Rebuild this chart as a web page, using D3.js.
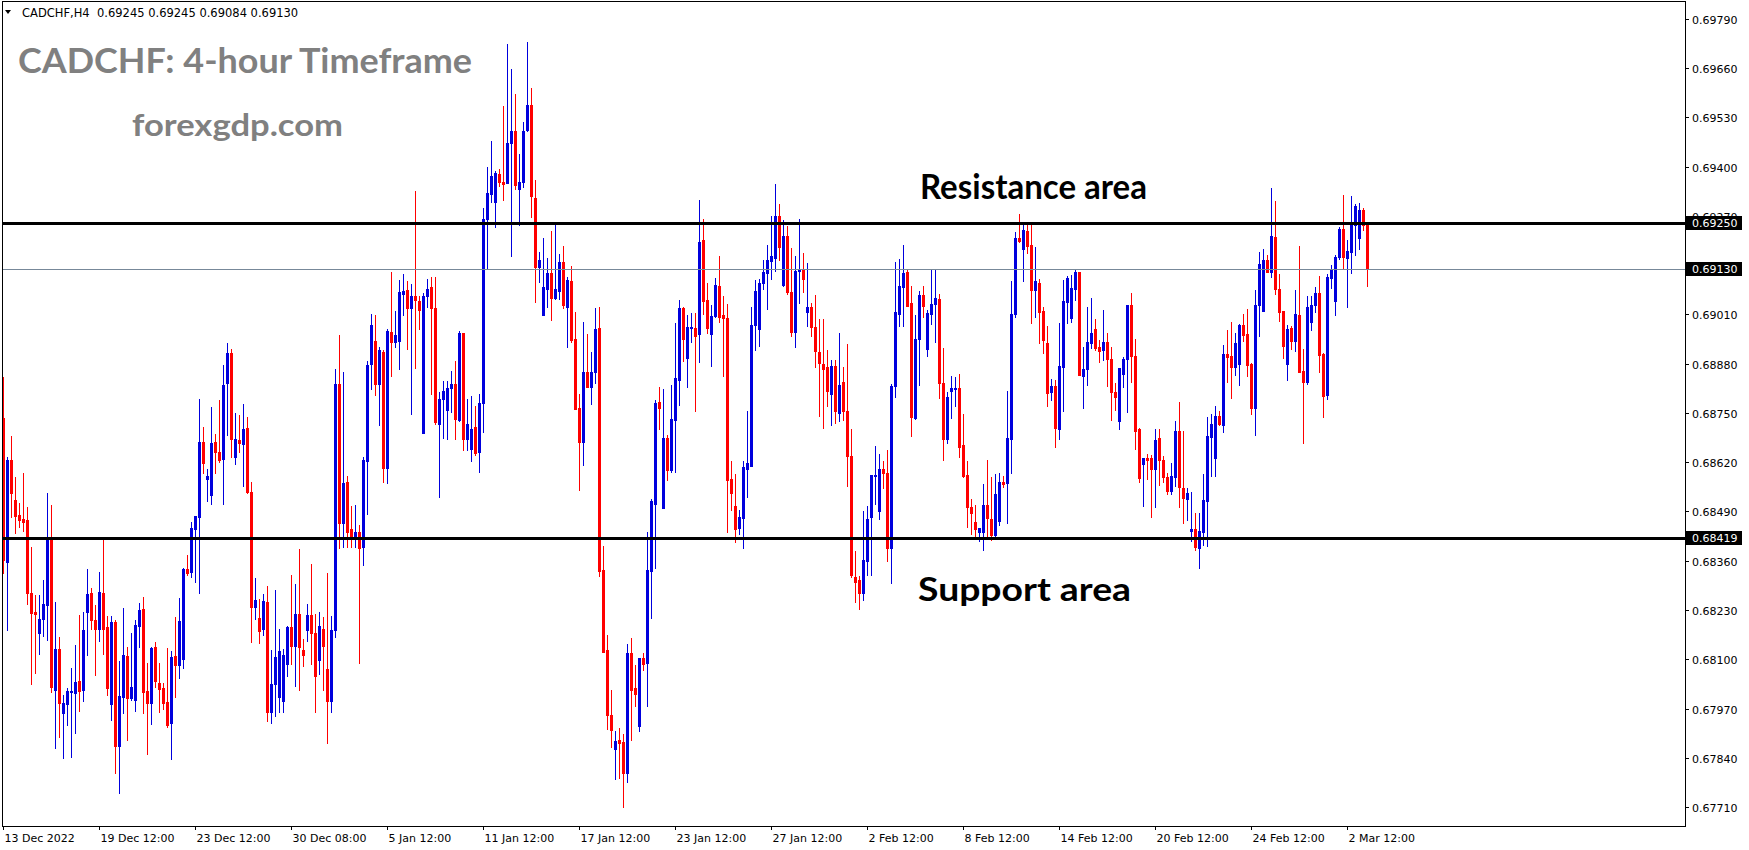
<!DOCTYPE html>
<html>
<head>
<meta charset="utf-8">
<script src="https://cdn.jsdelivr.net/npm/d3@7/dist/d3.min.js"></script>
<style>
  body { margin: 0; background: #fff; }
  svg text { font-family: "DejaVu Sans", sans-serif; }
</style>
</head>
<body>
<div id="chart"></div>
<script>
//CHART DATA (CADCHF H4 candles)
const opens = [0.68736,0.68357,0.68626,0.68520,0.68481,0.68470,0.68467,0.68276,0.68225,0.68170,0.68205,0.68244,0.68419,0.68020,0.68127,0.67959,0.67983,0.68014,0.68012,0.68042,
0.68019,0.68225,0.68274,0.68203,0.68180,0.68274,0.68184,0.67983,0.68198,0.67872,0.68001,0.68108,0.67998,0.67992,0.68188,0.68232,0.68017,0.67985,0.68133,0.68038,
0.68025,0.67988,0.67931,0.68108,0.68084,0.68100,0.68338,0.68331,0.68444,0.68476,0.68673,0.68576,0.68534,0.68673,0.68648,0.68629,0.68828,0.68909,0.68635,0.68679,
0.68669,0.68711,0.68541,0.68239,0.68209,0.68179,0.68251,0.67961,0.68036,0.68000,0.67990,0.68088,0.68184,0.68135,0.68220,0.68125,0.68176,0.68216,0.68170,0.68099,
0.68179,0.68075,0.67990,0.68176,0.68826,0.68460,0.68569,0.68444,0.68425,0.68436,0.68397,0.68624,0.68878,0.68941,0.68826,0.68912,0.68604,0.68963,0.68936,0.68939,
0.69064,0.69074,0.69026,0.69059,0.69045,0.68697,0.69058,0.69081,0.69026,0.68722,0.68786,0.68757,0.68815,0.68826,0.68731,0.68960,0.68681,0.68655,0.68712,0.68646,
0.68777,0.69261,0.69329,0.69307,0.69381,0.69360,0.69357,0.69463,0.69493,0.69340,0.69359,0.69496,0.69562,0.69318,0.69136,0.69009,0.69078,0.69118,0.69053,0.69071,
0.69147,0.69029,0.69098,0.68946,0.68763,0.68674,0.68859,0.68819,0.68859,0.68975,0.68335,0.68124,0.67952,0.67863,0.67887,0.67881,0.67800,0.68117,0.68025,0.67925,
0.68104,0.68091,0.68332,0.68511,0.68780,0.68500,0.68683,0.68600,0.68732,0.68837,0.69027,0.68894,0.68974,0.68975,0.68957,0.69206,0.69048,0.68959,0.69006,0.69085,
0.69008,0.69000,0.68576,0.68504,0.68446,0.68473,0.68602,0.68609,0.68981,0.68971,0.69092,0.69120,0.69152,0.69160,0.69269,0.69087,0.69217,0.69068,0.68964,0.69124,
0.69127,0.69016,0.69030,0.68978,0.68911,0.68878,0.68870,0.68799,0.68874,0.68750,0.68831,0.68756,0.68637,0.68318,0.68309,0.68276,0.68360,0.68475,0.68584,0.68492,
0.68601,0.68592,0.68393,0.68822,0.69011,0.69083,0.69123,0.69039,0.68736,0.68944,0.69060,0.68919,0.69011,0.69037,0.69051,0.68830,0.68681,0.68809,0.68813,0.68815,
0.68665,0.68586,0.68501,0.68461,0.68437,0.68437,0.68507,0.68469,0.68428,0.68466,0.68568,0.68566,0.68680,0.69010,0.69211,0.69182,0.69230,0.69192,0.69074,0.69092,
0.69019,0.68934,0.68804,0.68821,0.68708,0.68872,0.69044,0.69000,0.69076,0.69121,0.68848,0.68865,0.68934,0.68972,0.68924,0.68916,0.68937,0.68893,0.68804,0.68729,
0.68854,0.68891,0.69036,0.68901,0.68707,0.68615,0.68630,0.68630,0.68601,0.68685,0.68626,0.68582,0.68545,0.68582,0.68702,0.68553,0.68522,0.68439,0.68444,0.68394,
0.68437,0.68518,0.68687,0.68630,0.68742,0.68718,0.68905,0.68901,0.68872,0.68879,0.68982,0.68957,0.68879,0.68764,0.69035,0.69019,0.69153,0.69123,0.69215,0.69077,
0.69019,0.68879,0.68973,0.68941,0.69008,0.68861,0.68831,0.68991,0.69035,0.69067,0.68905,0.68797,0.69107,0.69046,0.69161,0.69235,0.69158,0.69175,0.69246,0.69211,
0.69285,0.69245];
const highs = [0.68846,0.68635,0.68689,0.68582,0.68513,0.68591,0.68502,0.68395,0.68269,0.68269,0.68309,0.68539,0.68507,0.68252,0.68159,0.68007,0.68025,0.68078,0.68137,0.68218,
0.68225,0.68339,0.68289,0.68243,0.68330,0.68419,0.68215,0.68215,0.68203,0.68095,0.68236,0.68133,0.68170,0.68203,0.68249,0.68265,0.68091,0.68133,0.68146,0.68089,
0.68038,0.68130,0.68122,0.68212,0.68262,0.68342,0.68375,0.68463,0.68479,0.68787,0.68714,0.68601,0.68766,0.68694,0.68784,0.68877,0.68934,0.68919,0.68750,0.68745,
0.68774,0.68738,0.68568,0.68315,0.68260,0.68271,0.68293,0.68124,0.68283,0.68180,0.68127,0.68189,0.68322,0.68298,0.68392,0.68154,0.68247,0.68351,0.68220,0.68225,
0.68211,0.68327,0.68214,0.68865,0.68955,0.68859,0.68583,0.68504,0.68506,0.68455,0.68635,0.68886,0.69012,0.69009,0.68925,0.68916,0.68972,0.69121,0.69018,0.69102,
0.69116,0.69097,0.69089,0.69335,0.69058,0.69067,0.69103,0.69108,0.69108,0.68804,0.68834,0.68835,0.68861,0.68886,0.68966,0.68960,0.68788,0.68794,0.68768,0.68799,
0.69291,0.69400,0.69468,0.69389,0.69395,0.69559,0.69723,0.69657,0.69592,0.69433,0.69518,0.69728,0.69608,0.69365,0.69174,0.69212,0.69160,0.69231,0.69249,0.69170,
0.69190,0.69109,0.69138,0.69016,0.68801,0.68989,0.68957,0.68911,0.69027,0.69029,0.68399,0.68164,0.68019,0.67911,0.67919,0.67903,0.68140,0.68156,0.68085,0.68104,
0.68117,0.68435,0.68522,0.68783,0.68818,0.68813,0.68691,0.68824,0.68986,0.69049,0.69029,0.69009,0.69013,0.69013,0.69313,0.69263,0.69092,0.69035,0.69105,0.69163,
0.69058,0.69038,0.68623,0.68590,0.68493,0.68624,0.68756,0.69030,0.69102,0.69103,0.69153,0.69193,0.69269,0.69353,0.69301,0.69259,0.69244,0.69185,0.69163,0.69263,
0.69172,0.69146,0.69041,0.69060,0.68997,0.68998,0.68915,0.68889,0.68889,0.68962,0.68870,0.68932,0.68707,0.68386,0.68321,0.68491,0.68505,0.68586,0.68663,0.68642,
0.68623,0.68652,0.68826,0.69149,0.69156,0.69193,0.69129,0.69085,0.69009,0.69073,0.69085,0.69022,0.69130,0.69130,0.69064,0.68922,0.68804,0.68848,0.68844,0.68852,
0.68747,0.68623,0.68522,0.68507,0.68447,0.68562,0.68626,0.68580,0.68589,0.68592,0.68584,0.68809,0.69099,0.69228,0.69275,0.69246,0.69248,0.69248,0.69188,0.69104,
0.69029,0.68979,0.68840,0.68837,0.68987,0.69101,0.69111,0.69113,0.69129,0.69123,0.68925,0.69029,0.69054,0.68998,0.68943,0.69022,0.68962,0.68925,0.68828,0.68868,
0.68898,0.69036,0.69067,0.68945,0.68709,0.68630,0.68641,0.68639,0.68707,0.68708,0.68636,0.68592,0.68617,0.68729,0.68780,0.68702,0.68551,0.68542,0.68487,0.68487,
0.68590,0.68740,0.68746,0.68768,0.68755,0.68929,0.68969,0.68989,0.68960,0.68985,0.69011,0.69024,0.68881,0.69074,0.69175,0.69183,0.69168,0.69343,0.69310,0.69117,
0.69019,0.68982,0.68980,0.69074,0.69190,0.68920,0.69058,0.69058,0.69081,0.69111,0.68907,0.69117,0.69140,0.69167,0.69240,0.69325,0.69206,0.69323,0.69301,0.69303,
0.69292,0.69245];
const lows = [0.68328,0.68177,0.68476,0.68434,0.68450,0.68438,0.68247,0.68036,0.68064,0.68115,0.68162,0.68152,0.68014,0.67865,0.67895,0.67840,0.67927,0.67843,0.67906,0.67964,
0.67990,0.68111,0.68179,0.68058,0.68149,0.68115,0.68005,0.67939,0.67799,0.67746,0.67959,0.67888,0.67992,0.67963,0.68133,0.67959,0.67851,0.67928,0.68027,0.67961,
0.67970,0.67920,0.67838,0.68001,0.68051,0.68078,0.68322,0.68318,0.68305,0.68276,0.68592,0.68518,0.68510,0.68592,0.68621,0.68509,0.68692,0.68633,0.68615,0.68648,
0.68558,0.68538,0.68146,0.68207,0.68142,0.68163,0.67938,0.67931,0.67951,0.67960,0.67960,0.68056,0.68088,0.68030,0.68020,0.68081,0.68149,0.68088,0.67960,0.68061,
0.68020,0.67880,0.67960,0.68159,0.68394,0.68397,0.68397,0.68397,0.68397,0.68091,0.68349,0.68484,0.68813,0.68797,0.68717,0.68569,0.68564,0.68848,0.68925,0.68865,
0.69009,0.68919,0.68746,0.68868,0.68972,0.68697,0.69029,0.68799,0.68722,0.68529,0.68684,0.68681,0.68753,0.68681,0.68728,0.68651,0.68651,0.68624,0.68640,0.68593,
0.68701,0.69129,0.69307,0.69240,0.69348,0.69311,0.69357,0.69163,0.69340,0.69245,0.69346,0.69493,0.69267,0.69042,0.69096,0.69009,0.69029,0.68996,0.69050,0.69050,
0.69027,0.68924,0.68938,0.68761,0.68547,0.68612,0.68818,0.68774,0.68830,0.68321,0.68118,0.67917,0.67868,0.67784,0.67787,0.67710,0.67775,0.67887,0.67977,0.67912,
0.68072,0.67976,0.68210,0.68341,0.68707,0.68498,0.68574,0.68593,0.68595,0.68772,0.68888,0.68819,0.68938,0.68756,0.68884,0.69011,0.68960,0.68875,0.69002,0.68989,
0.68848,0.68435,0.68495,0.68410,0.68430,0.68394,0.68528,0.68609,0.68915,0.68926,0.69076,0.69025,0.69103,0.69125,0.69154,0.69084,0.69063,0.68953,0.68924,0.69041,
0.69068,0.68980,0.68953,0.68870,0.68742,0.68711,0.68767,0.68718,0.68723,0.68728,0.68731,0.68558,0.68318,0.68250,0.68232,0.68256,0.68322,0.68322,0.68510,0.68469,
0.68551,0.68359,0.68300,0.68793,0.68979,0.68979,0.69032,0.68690,0.68734,0.68824,0.69004,0.68899,0.68985,0.68936,0.68789,0.68626,0.68670,0.68736,0.68769,0.68635,
0.68582,0.68450,0.68430,0.68417,0.68413,0.68388,0.68422,0.68415,0.68424,0.68454,0.68554,0.68460,0.68591,0.69004,0.69202,0.69099,0.69171,0.68988,0.69004,0.68934,
0.68909,0.68767,0.68784,0.68661,0.68680,0.68756,0.68987,0.68989,0.69048,0.68850,0.68762,0.68824,0.68921,0.68916,0.68885,0.68890,0.68821,0.68731,0.68758,0.68707,
0.68819,0.68753,0.68832,0.68654,0.68568,0.68505,0.68575,0.68476,0.68501,0.68561,0.68568,0.68536,0.68536,0.68557,0.68502,0.68460,0.68467,0.68413,0.68388,0.68342,
0.68401,0.68400,0.68584,0.68583,0.68718,0.68700,0.68832,0.68790,0.68850,0.68824,0.68941,0.68847,0.68747,0.68692,0.68954,0.69019,0.69123,0.69110,0.69064,0.68993,
0.68894,0.68837,0.68920,0.68914,0.68859,0.68671,0.68826,0.68969,0.69017,0.68859,0.68740,0.68788,0.69079,0.69008,0.69155,0.69129,0.69030,0.69118,0.69168,0.69183,
0.69233,0.69084];
const closes = [0.68362,0.68626,0.68540,0.68479,0.68467,0.68462,0.68276,0.68223,0.68220,0.68206,0.68246,0.68419,0.68027,0.68127,0.67985,0.67985,0.68017,0.68017,0.68041,0.68017,
0.68177,0.68272,0.68203,0.68180,0.68277,0.68181,0.68025,0.68198,0.67872,0.68003,0.68111,0.67997,0.68027,0.68191,0.68230,0.68014,0.67985,0.68130,0.68043,0.68021,
0.67985,0.67926,0.68107,0.68085,0.68201,0.68338,0.68328,0.68446,0.68478,0.68673,0.68617,0.68584,0.68671,0.68648,0.68626,0.68824,0.68909,0.68680,0.68681,0.68671,
0.68708,0.68541,0.68239,0.68256,0.68175,0.68254,0.67961,0.68034,0.68107,0.68122,0.68110,0.68184,0.68135,0.68220,0.68132,0.68110,0.68216,0.68170,0.68056,0.68189,
0.68135,0.67990,0.68176,0.68826,0.68460,0.68566,0.68435,0.68425,0.68436,0.68394,0.68627,0.68876,0.68983,0.68826,0.68916,0.68605,0.68965,0.68936,0.68955,0.69069,
0.69072,0.69026,0.69059,0.69048,0.69021,0.69058,0.69078,0.69026,0.68725,0.68788,0.68807,0.68815,0.68826,0.68733,0.68960,0.68682,0.68722,0.68708,0.68643,0.68777,
0.69261,0.69331,0.69376,0.69382,0.69359,0.69355,0.69463,0.69493,0.69351,0.69360,0.69495,0.69562,0.69322,0.69136,0.69154,0.69083,0.69118,0.69053,0.69078,0.69147,
0.69036,0.69101,0.68942,0.68761,0.68674,0.68859,0.68819,0.68859,0.68971,0.68332,0.68120,0.67952,0.67914,0.67884,0.67879,0.67800,0.68117,0.68019,0.68009,0.68104,
0.68088,0.68335,0.68517,0.68777,0.68763,0.68683,0.68600,0.68734,0.68843,0.69027,0.68944,0.68976,0.68977,0.68953,0.69201,0.69046,0.68975,0.69006,0.69087,0.69002,
0.69000,0.68574,0.68538,0.68444,0.68476,0.68607,0.68618,0.68982,0.69073,0.69092,0.69122,0.69154,0.69163,0.69269,0.69188,0.69217,0.69068,0.68964,0.69125,0.69127,
0.69103,0.69030,0.68978,0.68913,0.68881,0.68866,0.68808,0.68873,0.68756,0.68824,0.68756,0.68637,0.68322,0.68305,0.68274,0.68362,0.68470,0.68586,0.68586,0.68601,
0.68592,0.68393,0.68822,0.69017,0.69085,0.69120,0.69032,0.68738,0.68945,0.69061,0.69032,0.69013,0.69037,0.69053,0.68830,0.68681,0.68793,0.68815,0.68815,0.68661,
0.68584,0.68501,0.68485,0.68445,0.68447,0.68507,0.68474,0.68428,0.68536,0.68567,0.68562,0.68685,0.69011,0.69211,0.69205,0.69233,0.69191,0.69074,0.69097,0.69017,
0.68943,0.68802,0.68821,0.68711,0.68875,0.69045,0.69105,0.69079,0.69123,0.68850,0.68865,0.68936,0.68962,0.68921,0.68914,0.68938,0.68892,0.68804,0.68793,0.68868,
0.68892,0.69035,0.68901,0.68703,0.68579,0.68630,0.68626,0.68601,0.68678,0.68626,0.68582,0.68545,0.68583,0.68702,0.68555,0.68525,0.68538,0.68444,0.68397,0.68438,
0.68520,0.68690,0.68720,0.68742,0.68721,0.68905,0.68898,0.68872,0.68934,0.68982,0.68956,0.68876,0.68764,0.69036,0.69143,0.69153,0.69123,0.69217,0.69077,0.69017,
0.68927,0.68971,0.68941,0.69010,0.68859,0.68831,0.69030,0.69035,0.69067,0.68903,0.68795,0.69110,0.69130,0.69161,0.69235,0.69161,0.69177,0.69248,0.69296,0.69285,
0.69246,0.69130];

//X axis labels (bar index of each label)
const xTickBars = [0,24,48,72,96,120,144,168,192,216,240,264,288,312,336];
const xTickLabels = ["13 Dec 2022","19 Dec 12:00","23 Dec 12:00","30 Dec 08:00","5 Jan 12:00","11 Jan 12:00","17 Jan 12:00",
  "23 Jan 12:00","27 Jan 12:00","2 Feb 12:00","8 Feb 12:00","14 Feb 12:00","20 Feb 12:00","24 Feb 12:00","2 Mar 12:00"];

//Y axis price labels
const yTicks = [0.69790,0.69660,0.69530,0.69400,0.69270,0.69140,0.69010,0.68880,0.68750,0.68620,0.68490,0.68360,0.68230,0.68100,0.67970,0.67840,0.67710];

//Horizontal levels
const resistance = 0.69250;
const support = 0.68419;
const bid = 0.69130;

//SCRIPT PROPERTIES
const w = 1749;
const h = 850;
const plot = { left: 2, top: 1, right: 1685, bottom: 826 };
const bullColour = "#0000dd";
const bearColour = "#ff0000";

//Scales
let x = d3.scaleLinear().domain([0, 420]).range([3.3, 1683.3]);
let y = d3.scaleLinear().domain([0.67660, 0.69837]).range([826, 1]);

function drawChart() {
    let svg = d3.select("#chart")
        .append("svg")
        .attr("width", w)
        .attr("height", h)
        .style("background-color", "white");

    //Price boxes sit on these rows of the axis
    let boxed = [resistance, bid, support].map(v => Math.round(y(v)));

    //Clip that keeps only the sliver of a label showing above a price box
    svg.append("defs")
        .append("clipPath").attr("id", "sliver")
        .selectAll("rect")
        .data(boxed)
        .enter()
        .append("rect")
        .attr("x", plot.right)
        .attr("y", d => d - 14)
        .attr("width", 64)
        .attr("height", 7);

    //Candles
    let candles = svg.append("g").attr("class", "candles");
    let bars = d3.range(opens.length);

    bars.forEach(i => {
        let o = opens[i], c = closes[i];
        let colour = c >= o ? bullColour : bearColour;
        let cx = Math.round(x(i));

        //Wick
        candles.append("line")
            .attr("x1", cx + 0.5).attr("x2", cx + 0.5)
            .attr("y1", Math.round(y(highs[i]))).attr("y2", Math.round(y(lows[i])) + 1)
            .attr("stroke", colour)
            .attr("stroke-width", 1);

        //Body
        let top = Math.round(y(Math.max(o, c)));
        let bottom = Math.round(y(Math.min(o, c)));
        candles.append("rect")
            .attr("x", cx - 1)
            .attr("y", top)
            .attr("width", 3)
            .attr("height", Math.max(1, bottom - top + 1))
            .attr("fill", colour);
    });

    //Bid line (thin grey)
    svg.append("line")
        .attr("x1", plot.left).attr("x2", plot.right)
        .attr("y1", Math.round(y(bid)) + 0.5).attr("y2", Math.round(y(bid)) + 0.5)
        .attr("stroke", "#778899")
        .attr("stroke-width", 1);

    //Support and resistance lines
    [resistance, support].forEach(v => {
        svg.append("line")
            .attr("x1", plot.left).attr("x2", plot.right)
            .attr("y1", Math.round(y(v)) + 0.5).attr("y2", Math.round(y(v)) + 0.5)
            .attr("stroke", "black")
            .attr("stroke-width", 3);
    });

    //Chart frame
    svg.append("rect")
        .attr("x", plot.left + 0.5)
        .attr("y", plot.top + 0.5)
        .attr("width", plot.right - plot.left)
        .attr("height", plot.bottom - plot.top)
        .attr("fill", "none")
        .attr("stroke", "black")
        .attr("stroke-width", 1);

    //Y axis ticks and labels
    let yAxis = svg.append("g").attr("class", "y-axis");
    yTicks.forEach(v => {
        let ty = Math.round(y(v)) + 0.5;
        yAxis.append("line")
            .attr("x1", plot.right).attr("x2", plot.right + 4)
            .attr("y1", ty).attr("y2", ty)
            .attr("stroke", "black");

        let label = yAxis.append("text")
            .attr("x", plot.right + 7)
            .attr("y", ty + 4)
            .attr("font-size", 11)
            .attr("fill", "black")
            .text(v.toFixed(5));

        //Label under a price box: only its top shows, as in the terminal
        if (boxed.some(b => Math.abs(b - ty) < 13)) {
            label.attr("clip-path", "url(#sliver)");
        }
    });

    //X axis ticks and labels
    let xAxis = svg.append("g").attr("class", "x-axis");
    xTickBars.forEach((b, k) => {
        let tx = Math.round(x(b)) + 0.5;
        xAxis.append("line")
            .attr("x1", tx).attr("x2", tx)
            .attr("y1", plot.bottom).attr("y2", plot.bottom + 4)
            .attr("stroke", "black");
        xAxis.append("text")
            .attr("x", tx + 1)
            .attr("y", plot.bottom + 16)
            .attr("font-size", 11)
            .attr("fill", "black")
            .text(xTickLabels[k]);
    });

    //Price boxes on the axis
    [resistance, bid, support].forEach(v => {
        let ty = Math.round(y(v));
        svg.append("rect")
            .attr("x", plot.right + 1)
            .attr("y", ty - 7)
            .attr("width", 56)
            .attr("height", 14)
            .attr("fill", "black");
        svg.append("text")
            .attr("x", plot.right + 7)
            .attr("y", ty + 4)
            .attr("font-size", 11)
            .attr("fill", "white")
            .text(v.toFixed(5));
    });

    //Header line
    svg.append("path")
        .attr("d", "M5,10 L11,10 L8,14 Z")
        .attr("fill", "black");
    svg.append("text")
        .attr("x", 22)
        .attr("y", 17)
        .attr("font-size", 11.5)
        .attr("fill", "black")
        .attr("xml:space", "preserve")
        .text("CADCHF,H4  " + [opens, highs, lows, closes].map(a => a[a.length - 1].toFixed(5)).join(" "));

    //Titles and annotations
    const bigFont = "Lato, 'Open Sans', sans-serif";
    svg.append("text")
        .attr("x", 18).attr("y", 73)
        .style("font-family", bigFont)
        .attr("font-weight", "bold")
        .attr("font-size", 34)
        .attr("textLength", 454)
        .attr("lengthAdjust", "spacingAndGlyphs")
        .attr("fill", "#808080")
        .text("CADCHF: 4-hour Timeframe");

    svg.append("text")
        .attr("x", 132).attr("y", 136)
        .style("font-family", bigFont)
        .attr("font-weight", "bold")
        .attr("font-size", 31)
        .attr("textLength", 211)
        .attr("lengthAdjust", "spacingAndGlyphs")
        .attr("fill", "#808080")
        .text("forexgdp.com");

    svg.append("text")
        .attr("x", 920).attr("y", 199)
        .style("font-family", bigFont)
        .attr("font-weight", "bold")
        .attr("font-size", 34)
        .attr("textLength", 227)
        .attr("lengthAdjust", "spacingAndGlyphs")
        .attr("fill", "black")
        .text("Resistance area");

    svg.append("text")
        .attr("x", 918).attr("y", 601)
        .style("font-family", bigFont)
        .attr("font-weight", "bold")
        .attr("font-size", 33)
        .attr("textLength", 213)
        .attr("lengthAdjust", "spacingAndGlyphs")
        .attr("fill", "black")
        .text("Support area");
}

window.onload = drawChart;
</script>
</body>
</html>
